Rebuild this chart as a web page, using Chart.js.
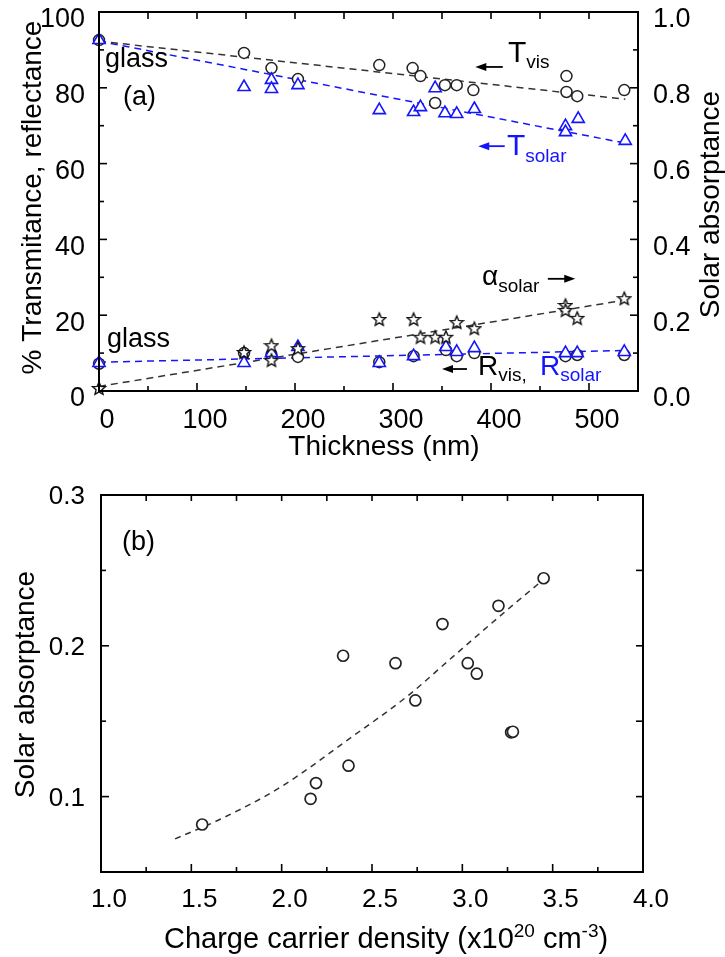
<!DOCTYPE html>
<html>
<head>
<meta charset="utf-8">
<script src="https://cdn.jsdelivr.net/npm/chart.js@4.4.0/dist/chart.umd.min.js"></script>
<style>
html, body { margin: 0; padding: 0; background: #fff; }
#wrapA { position: absolute; left: 0; top: 0; width: 725px; height: 470px; }
#wrapB { position: absolute; left: 0; top: 470px; width: 725px; height: 487px; }
</style>
</head>
<body>
<div id="wrapA"><canvas id="chartA" width="725" height="470"></canvas></div>
<div id="wrapB"><canvas id="chartB" width="725" height="487"></canvas></div>
<script>
// ---- panel (a): optical properties vs film thickness ----
var tvisThick = [0, 148, 176, 203, 286, 320, 328, 343, 353, 365, 382, 477, 477, 488, 536]
var tvis = [92.6, 89.2, 85.2, 82.3, 86.0, 85.2, 83.1, 76.0, 80.7, 80.7, 79.4, 83.1, 78.9, 77.8, 79.4]
var tsolThick = [0, 148, 176, 176, 203, 286, 321, 328, 343, 353, 365, 383, 476, 476, 489, 537]
var tsol = [92.6, 80.2, 82.1, 79.7, 80.7, 74.1, 73.6, 74.9, 79.9, 73.3, 73.1, 74.4, 69.9, 68.3, 71.8, 66.0]
var rvisThick = [0, 148, 176, 203, 286, 321, 354, 365, 383, 476, 488, 536]
var rvis = [7.2, 10.0, 9.6, 9.0, 7.6, 9.2, 10.8, 9.2, 10.0, 9.2, 9.5, 9.5]
var rsolThick = [0, 148, 176, 203, 286, 321, 354, 365, 383, 476, 488, 536]
var rsol = [7.4, 7.4, 10.0, 11.6, 7.4, 9.2, 11.6, 10.3, 11.3, 10.0, 10.0, 10.3]
var absThick = [0, 148, 176, 176, 203, 286, 321, 328, 343, 354, 365, 383, 476, 476, 488, 536]
var absSolar = [0.008, 0.103, 0.121, 0.082, 0.113, 0.190, 0.190, 0.143, 0.143, 0.143, 0.182, 0.166, 0.227, 0.214, 0.193, 0.245]

// dashed guide lines of panel (a)
var fitThick = [0, 537]
var tvisFit = [92.3, 77.0]
var tsolFit = [92.3, 65.4]
var rFit = [7.6, 10.7]
var absFit = [0.012, 0.240]

// tick labels of panel (a)
var thickTicks = [0, 100, 200, 300, 400, 500]
var pctTicks = [0, 20, 40, 60, 80, 100]
var absTicks = [0, 0.2, 0.4, 0.6, 0.8, 1.0]

// ---- panel (b): absorptance vs carrier density ----
var density = [1.56, 2.16, 2.19, 2.34, 2.37, 2.63, 2.74, 2.89, 3.03, 3.08, 3.20, 3.27, 3.28, 3.45]
var absB = [0.0815, 0.0985, 0.109, 0.1934, 0.1205, 0.1885, 0.1638, 0.2144, 0.1885, 0.1815, 0.2265, 0.1426, 0.1430, 0.2448]
var curveDensity = [1.41, 1.66, 1.99, 2.37, 2.70, 2.95, 3.25, 3.45]
var curveAbs = [0.072, 0.085, 0.106, 0.138, 0.167, 0.193, 0.224, 0.244]
var densTicks = [1, 1.5, 2, 2.5, 3, 3.5, 4]
var absBTicks = [0.1, 0.2, 0.3]

var FONT = '"Liberation Sans", Arial, sans-serif'
var BLUE = '#1414ff'

function pairs(xs, ys) {
    return xs.map(function (x, i) { return { x: x, y: ys[i] } })
}

function makeStar(size, color) {
    var c = document.createElement('canvas')
    c.width = size
    c.height = size
    var g = c.getContext('2d')
    var r1 = size / 2 - 1.2, r2 = r1 * 0.45, cx = size / 2, cy = size / 2 + 0.8
    g.beginPath()
    for (var i = 0; i < 10; i++) {
        var r = i % 2 == 0 ? r1 : r2
        var ang = -Math.PI / 2 + i * Math.PI / 5
        if (i == 0) g.moveTo(cx + r * Math.cos(ang), cy + r * Math.sin(ang))
        else g.lineTo(cx + r * Math.cos(ang), cy + r * Math.sin(ang))
    }
    g.closePath()
    g.fillStyle = '#fff'
    g.fill()
    g.strokeStyle = color
    g.lineWidth = 1.4
    g.stroke()
    return c
}

// text with sub/superscripts: parts = [text, size, dy, color]
function runs(ctx, x, y, parts) {
    parts.forEach(function (p) {
        ctx.font = p[1] + 'px ' + FONT
        ctx.fillStyle = p[3] || '#000'
        ctx.fillText(p[0], x, y + (p[2] || 0))
        x += ctx.measureText(p[0]).width
    })
}

function vtext(ctx, text, x, y, size) {
    ctx.save()
    ctx.translate(x, y)
    ctx.rotate(-Math.PI / 2)
    ctx.font = size + 'px ' + FONT
    ctx.fillStyle = '#000'
    ctx.textAlign = 'center'
    ctx.textBaseline = 'alphabetic'
    ctx.fillText(text, 0, 0)
    ctx.restore()
}

function arrow(ctx, x1, x2, y, color) {
    var dir = x2 > x1 ? 1 : -1
    ctx.strokeStyle = color
    ctx.fillStyle = color
    ctx.lineWidth = 1.8
    ctx.beginPath()
    ctx.moveTo(x1, y)
    ctx.lineTo(x2 - dir * 8, y)
    ctx.stroke()
    ctx.beginPath()
    ctx.moveTo(x2, y)
    ctx.lineTo(x2 - dir * 11, y - 4)
    ctx.lineTo(x2 - dir * 11, y + 4)
    ctx.closePath()
    ctx.fill()
}

// keep the plot box where the layout padding puts it
function noLabelPadding(s) {
    s.paddingTop = 0
    s.paddingBottom = 0
    s.paddingLeft = 0
    s.paddingRight = 0
}

// box round the plot area plus inward tick marks on every side
var framePlugin = {
    id: 'frame',
    afterDatasetsDraw: function (chart, args, opts) {
        var ctx = chart.ctx, a = chart.chartArea
        ctx.save()
        ctx.strokeStyle = '#000'
        ctx.lineWidth = 2
        ctx.strokeRect(a.left, a.top, a.right - a.left, a.bottom - a.top)
        ctx.lineWidth = 1.6
        opts.marks.forEach(function (m) {
            var sc = chart.scales[m.scale]
            m.values.forEach(function (v) {
                var p = sc.getPixelForValue(v)
                ctx.beginPath()
                if (m.side == 'bottom') { ctx.moveTo(p, a.bottom); ctx.lineTo(p, a.bottom - m.len) }
                if (m.side == 'top') { ctx.moveTo(p, a.top); ctx.lineTo(p, a.top + m.len) }
                if (m.side == 'left') { ctx.moveTo(a.left, p); ctx.lineTo(a.left + m.len, p) }
                if (m.side == 'right') { ctx.moveTo(a.right, p); ctx.lineTo(a.right - m.len, p) }
                ctx.stroke()
            })
        })
        ctx.restore()
    }
}

var notesA = {
    id: 'notesA',
    afterDraw: function (chart) {
        var ctx = chart.ctx, a = chart.chartArea
        var sx = chart.scales.x, sy = chart.scales.y
        var px = function (v) { return sx.getPixelForValue(v) }
        var py = function (v) { return sy.getPixelForValue(v) }
        ctx.save()
        ctx.textAlign = 'left'
        ctx.textBaseline = 'alphabetic'
        runs(ctx, px(6), py(85.5), [['glass', 27]])
        runs(ctx, px(24.5), py(75.5), [['(a)', 27]])
        runs(ctx, px(8.2), py(11.6), [['glass', 27]])

        arrow(ctx, px(412), px(384), py(85.5), '#000')
        runs(ctx, px(417.3), py(86.8), [['T', 30], ['vis', 19, 6]])

        arrow(ctx, px(414), px(387), py(64.6), BLUE)
        runs(ctx, px(416.3), py(62.3), [['T', 30, 0, BLUE], ['solar', 19, 7, BLUE]])

        runs(ctx, px(390.8), py(28.0), [['\u03b1', 28], ['solar', 19, 7]])
        arrow(ctx, px(458), px(486), py(29.6), '#000')

        arrow(ctx, px(375.5), px(350), py(5.8), '#000')
        runs(ctx, px(386.7), py(4.2), [['R', 28], ['vis,', 19, 6]])
        runs(ctx, px(450), py(4.2), [['R', 28, 0, BLUE], ['solar', 19, 6, BLUE]])

        vtext(ctx, '% Transmitance, reflectance', 41, (a.top + a.bottom) / 2 - 4, 28)
        vtext(ctx, 'Solar absorptance', 719, (a.top + a.bottom) / 2 + 3, 28)
        ctx.font = '28px ' + FONT
        ctx.fillStyle = '#000'
        ctx.textAlign = 'center'
        ctx.fillText('Thickness (nm)', 384, 455)
        ctx.restore()
    }
}

var notesB = {
    id: 'notesB',
    afterDraw: function (chart) {
        var ctx = chart.ctx, a = chart.chartArea
        var sx = chart.scales.x, sy = chart.scales.y
        ctx.save()
        ctx.textAlign = 'left'
        ctx.textBaseline = 'alphabetic'
        runs(ctx, sx.getPixelForValue(1.116), sy.getPixelForValue(0.2636), [['(b)', 27]])
        runs(ctx, 164, 478, [['Charge carrier density (x10', 29], ['20', 19, -11], [' cm', 29], ['-3', 19, -11], [')', 29]])
        vtext(ctx, 'Solar absorptance', 34, (a.top + a.bottom) / 2 + 1, 28)
        ctx.restore()
    }
}

var star = makeStar(16, '#111')

var tickFontA = { family: FONT, size: 27 }
var tickFontB = { family: FONT, size: 26 }

new Chart(document.getElementById('chartA'), {
    type: 'scatter',
    data: {
        datasets: [
            { data: pairs(absThick, absSolar), yAxisID: 'y2', pointStyle: star, pointRadius: 7, showLine: false, clip: false },
            { data: pairs(tsolThick, tsol), yAxisID: 'y', pointStyle: 'triangle', pointRadius: 7, borderWidth: 1.6, borderColor: BLUE, backgroundColor: '#fff', showLine: false, clip: false },
            { data: pairs(rsolThick, rsol), yAxisID: 'y', pointStyle: 'triangle', pointRadius: 7, borderWidth: 1.6, borderColor: BLUE, backgroundColor: '#fff', showLine: false, clip: false },
            { data: pairs(tvisThick, tvis), yAxisID: 'y', pointStyle: 'circle', pointRadius: 5.5, borderWidth: 1.5, borderColor: '#222', backgroundColor: '#fff', showLine: false, clip: false },
            { data: pairs(rvisThick, rvis), yAxisID: 'y', pointStyle: 'circle', pointRadius: 5.5, borderWidth: 1.5, borderColor: '#222', backgroundColor: '#fff', showLine: false, clip: false },
            { data: pairs(fitThick, tvisFit), yAxisID: 'y', showLine: true, pointRadius: 0, borderColor: '#333', borderWidth: 1.5, borderDash: [7, 5] },
            { data: pairs(fitThick, tsolFit), yAxisID: 'y', showLine: true, pointRadius: 0, borderColor: BLUE, borderWidth: 1.5, borderDash: [7, 5] },
            { data: pairs(fitThick, rFit), yAxisID: 'y', showLine: true, pointRadius: 0, borderColor: BLUE, borderWidth: 1.5, borderDash: [7, 5] },
            { data: pairs(fitThick, absFit), yAxisID: 'y2', showLine: true, pointRadius: 0, borderColor: '#333', borderWidth: 1.5, borderDash: [7, 5] }
        ]
    },
    options: {
        responsive: false,
        animation: false,
        layout: { padding: { top: 12, left: 0, right: 0, bottom: 0 } },
        plugins: {
            legend: { display: false },
            tooltip: { enabled: false },
            frame: {
                marks: [
                    { scale: 'x', side: 'bottom', len: 8, values: [0, 100, 200, 300, 400, 500] },
                    { scale: 'x', side: 'bottom', len: 5, values: [50, 150, 250, 350, 450] },
                    { scale: 'x', side: 'top', len: 7, values: [50, 100, 150, 200, 250, 300, 350, 400, 450, 500] },
                    { scale: 'y', side: 'left', len: 8, values: [20, 40, 60, 80] },
                    { scale: 'y', side: 'left', len: 5, values: [10, 30, 50, 70, 90] },
                    { scale: 'y2', side: 'right', len: 8, values: [0.2, 0.4, 0.6, 0.8] },
                    { scale: 'y2', side: 'right', len: 5, values: [0.1, 0.3, 0.5, 0.7, 0.9] }
                ]
            }
        },
        scales: {
            x: {
                type: 'linear', position: 'bottom', min: 0, max: 550,
                grid: { display: false }, border: { display: false },
                afterBuildTicks: function (s) { s.ticks = thickTicks.map(function (v) { return { value: v } }) },
                afterFit: function (s) { s.height = 79; noLabelPadding(s) },
                ticks: { font: tickFontA, color: '#000', padding: 5, labelOffset: 8, maxRotation: 0, autoSkip: false }
            },
            y: {
                type: 'linear', position: 'left', min: 0, max: 100,
                grid: { display: false }, border: { display: false },
                afterBuildTicks: function (s) { s.ticks = pctTicks.map(function (v) { return { value: v } }) },
                afterFit: function (s) { s.width = 99; noLabelPadding(s) },
                ticks: { font: tickFontA, color: '#000', padding: 6, labelOffset: 8 }
            },
            y2: {
                type: 'linear', position: 'right', min: 0, max: 1,
                grid: { display: false }, border: { display: false },
                afterBuildTicks: function (s) { s.ticks = absTicks.map(function (v) { return { value: v } }) },
                afterFit: function (s) { s.width = 87; noLabelPadding(s) },
                ticks: { font: tickFontA, color: '#000', padding: 7, labelOffset: 8, callback: function (v) { return v.toFixed(1) } }
            }
        }
    },
    plugins: [framePlugin, notesA]
})

new Chart(document.getElementById('chartB'), {
    type: 'scatter',
    data: {
        datasets: [
            { data: pairs(density, absB), pointStyle: 'circle', pointRadius: 5.5, borderWidth: 1.7, borderColor: '#222', backgroundColor: '#fff', showLine: false, clip: false },
            { data: pairs(curveDensity, curveAbs), showLine: true, pointRadius: 0, borderColor: '#333', borderWidth: 1.5, borderDash: [6, 5], tension: 0.4, cubicInterpolationMode: 'monotone' }
        ]
    },
    options: {
        responsive: false,
        animation: false,
        layout: { padding: { top: 25, left: 0, right: 82, bottom: 0 } },
        plugins: {
            legend: { display: false },
            tooltip: { enabled: false },
            frame: {
                marks: [
                    { scale: 'x', side: 'bottom', len: 8, values: [1.5, 2, 2.5, 3, 3.5] },
                    { scale: 'x', side: 'bottom', len: 5, values: [1.25, 1.75, 2.25, 2.75, 3.25, 3.75] },
                    { scale: 'x', side: 'top', len: 6, values: [1.25, 1.5, 1.75, 2, 2.25, 2.5, 2.75, 3, 3.25, 3.5, 3.75] },
                    { scale: 'y', side: 'left', len: 8, values: [0.1, 0.2] },
                    { scale: 'y', side: 'left', len: 5, values: [0.15, 0.25] },
                    { scale: 'y', side: 'right', len: 7, values: [0.1, 0.15, 0.2, 0.25] }
                ]
            }
        },
        scales: {
            x: {
                type: 'linear', position: 'bottom', min: 1, max: 4,
                grid: { display: false }, border: { display: false },
                afterBuildTicks: function (s) { s.ticks = densTicks.map(function (v) { return { value: v } }) },
                afterFit: function (s) { s.height = 85; noLabelPadding(s) },
                ticks: { font: tickFontB, color: '#000', padding: 4, labelOffset: 8, maxRotation: 0, autoSkip: false, callback: function (v) { return v.toFixed(1) } }
            },
            y: {
                type: 'linear', position: 'left', min: 0.05, max: 0.3,
                grid: { display: false }, border: { display: false },
                afterBuildTicks: function (s) { s.ticks = absBTicks.map(function (v) { return { value: v } }) },
                afterFit: function (s) { s.width = 101; noLabelPadding(s) },
                ticks: { font: tickFontB, color: '#000', padding: 8, labelOffset: 2, callback: function (v) { return v.toFixed(1) } }
            }
        }
    },
    plugins: [framePlugin, notesB]
})
</script>
</body>
</html>
